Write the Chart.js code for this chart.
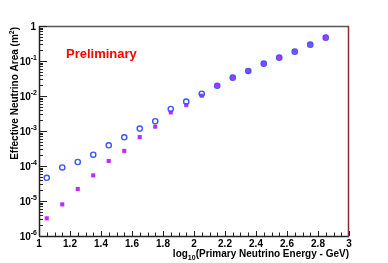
<!DOCTYPE html>
<html><head><meta charset="utf-8">
<script src="https://cdn.jsdelivr.net/npm/chart.js@4/dist/chart.umd.min.js"></script>
<style>html,body{margin:0;padding:0;background:#fff}#w{width:388px;height:263px}</style>
</head><body><div id="w"><canvas id="c" width="388" height="263"></canvas></div>
<script>
const energyLog10 = [1.05,1.15,1.25,1.35,1.45,1.55,1.65,1.75,1.85,1.95,2.05,2.15,2.25,2.35,2.45,2.55,2.65,2.75,2.85];
const areaBlue = [4.6e-5,9.1e-5,1.3e-4,2.1e-4,3.9e-4,6.6e-4,1.17e-3,1.9e-3,4.25e-3,6.9e-3,1.16e-2,1.97e-2,3.34e-2,5.18e-2,8.4e-2,0.1245,0.185,0.293,0.464];
const areaMagenta = [3.2e-6,8.0e-6,2.2e-5,5.4e-5,1.39e-4,2.7e-4,6.7e-4,1.33e-3,3.4e-3,5.5e-3,1.02e-2,1.97e-2,3.34e-2,5.18e-2,8.4e-2,0.1245,0.185,0.293,0.464];
const xTickLabels = ['1','1.2','1.4','1.6','1.8','2','2.2','2.4','2.6','2.8','3'];
const yDecades = [0,-1,-2,-3,-4,-5,-6];
const xTitle = ['log','10','(Primary Neutrino Energy - GeV)'];
const yTitle = ['Effective Neutrino Area (m','2',')'];
const watermark = 'Preliminary';

const FONT = '"Liberation Sans", Arial, Helvetica, sans-serif';
const L=39,R=349,T=26,B=236;

const axisPlugin = {
  id:'axisPlugin',
  afterDraw(chart){
    const ctx=chart.ctx, xs=chart.scales.x, ys=chart.scales.y;
    const ca=chart.chartArea;
    ctx.save();
    ctx.lineWidth=1.5;
    ctx.strokeStyle='#555';
    ctx.beginPath();ctx.moveTo(ca.left,ca.top+0.5);ctx.lineTo(ca.right,ca.top+0.5);ctx.stroke();
    ctx.strokeStyle='#222';
    ctx.beginPath();ctx.moveTo(ca.left+0.5,ca.top);ctx.lineTo(ca.left+0.5,ca.bottom);ctx.stroke();
    ctx.beginPath();ctx.moveTo(ca.left,ca.bottom+0.5);ctx.lineTo(ca.right,ca.bottom+0.5);ctx.stroke();
    ctx.strokeStyle='#8b2a2a';
    ctx.beginPath();ctx.moveTo(ca.right-0.5,ca.top);ctx.lineTo(ca.right-0.5,ca.bottom+1);ctx.stroke();
    ctx.strokeStyle='#222';ctx.lineWidth=1;
    yDecades.forEach(d=>{
      const y=Math.round(ys.getPixelForValue(Math.pow(10,d)))+0.5;
      ctx.beginPath();ctx.moveTo(ca.left,y);ctx.lineTo(ca.left+8,y);ctx.stroke();
      if(d<0){
        for(let m=2;m<=9;m++){
          const yy=Math.round(ys.getPixelForValue(m*Math.pow(10,d)))+0.5;
          ctx.beginPath();ctx.moveTo(ca.left,yy);ctx.lineTo(ca.left+4,yy);ctx.stroke();
        }
      }
    });
    for(let i=0;i<=40;i++){
      const v=1+i*0.05;
      const x=Math.round(xs.getPixelForValue(v))+0.5;
      const len=(i%4===0)?5:3.5;
      ctx.beginPath();ctx.moveTo(x,ca.bottom);ctx.lineTo(x,ca.bottom-len);ctx.stroke();
    }
    ctx.fillStyle='#000';
    ctx.font='bold 10px '+FONT;
    ctx.textAlign='center';ctx.textBaseline='alphabetic';
    xTickLabels.forEach(t=>{
      const x=xs.getPixelForValue(parseFloat(t));
      ctx.fillText(t,x,247);
    });
    yDecades.forEach(d=>{
      const y=ys.getPixelForValue(Math.pow(10,d));
      if(d===0){
        ctx.font='bold 10px '+FONT;ctx.textAlign='right';
        ctx.fillText('1',36,y+4);
      } else {
        const sup=String(d);
        ctx.font='bold 7px '+FONT;
        const sw=ctx.measureText(sup).width;
        ctx.textAlign='right';
        ctx.fillText(sup,37,y-1);
        ctx.font='bold 10px '+FONT;
        ctx.fillText('10',37-sw,y+4);
      }
    });
    ctx.textAlign='left';
    ctx.font='bold 10px '+FONT;
    const w0=ctx.measureText(xTitle[0]).width, w2=ctx.measureText(xTitle[2]).width;
    ctx.font='bold 7px '+FONT;
    const w1=ctx.measureText(xTitle[1]).width;
    let x0=R-(w0+w1+w2);
    const by=257;
    ctx.font='bold 10px '+FONT;ctx.fillText(xTitle[0],x0,by);
    ctx.font='bold 7px '+FONT;ctx.fillText(xTitle[1],x0+w0,by+3);
    ctx.font='bold 10px '+FONT;ctx.fillText(xTitle[2],x0+w0+w1,by);
    ctx.save();
    ctx.translate(18,27);
    ctx.rotate(-Math.PI/2);
    ctx.font='bold 10px '+FONT;
    const a0=ctx.measureText(yTitle[0]).width,a2=ctx.measureText(yTitle[2]).width;
    ctx.font='bold 7px '+FONT;
    const a1=ctx.measureText(yTitle[1]).width;
    let s=-(a0+a1+a2);
    ctx.textAlign='left';
    ctx.font='bold 10px '+FONT;ctx.fillText(yTitle[0],s,0);
    ctx.font='bold 7px '+FONT;ctx.fillText(yTitle[1],s+a0,-4);
    ctx.font='bold 10px '+FONT;ctx.fillText(yTitle[2],s+a0+a1,0);
    ctx.restore();
    ctx.fillStyle='#ff0000';
    ctx.font='bold 13px '+FONT;
    ctx.textAlign='left';
    ctx.fillText(watermark,66,58);
    ctx.restore();
  }
};

new Chart(document.getElementById('c'),{
  type:'scatter',
  data:{datasets:[
    {label:'blue',data:energyLog10.map((x,i)=>({x,y:areaBlue[i]})),pointStyle:'circle',pointRadius:2.6,pointBorderWidth:1.4,borderColor:'#3a56ff',backgroundColor:'rgba(0,0,0,0)',showLine:false},
    {label:'magenta',data:energyLog10.map((x,i)=>({x,y:areaMagenta[i]})),pointStyle:'rect',pointRadius:2.9,pointBorderWidth:0,borderColor:'#bb2cff',backgroundColor:'#bb2cff',showLine:false}
  ]},
  options:{
    responsive:false,animation:false,devicePixelRatio:1,
    layout:{padding:{left:0,right:388-R,top:T,bottom:0}},
    plugins:{legend:{display:false},tooltip:{enabled:false}},
    scales:{
      x:{type:'linear',min:1,max:3,grid:{display:false},border:{display:false},ticks:{display:false},
         afterFit(s){s.height=263-B;}},
      y:{type:'logarithmic',min:1e-6,max:1,grid:{display:false},border:{display:false},ticks:{display:false},
         afterFit(s){s.width=L;}}
    }
  },
  plugins:[axisPlugin]
});
</script></body></html>
